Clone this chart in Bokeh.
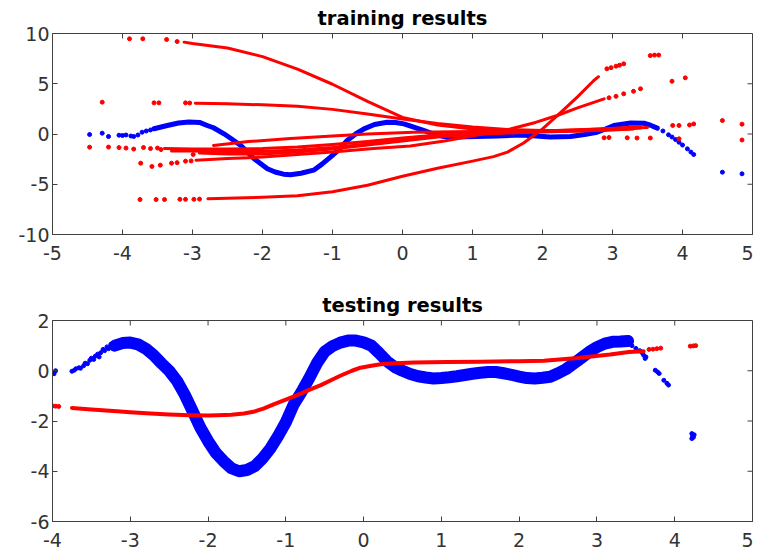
import math
from bokeh.plotting import figure
from bokeh.layouts import column
from bokeh.models import Range1d, FixedTicker, Title
from bokeh.embed import file_html
from bokeh.resources import INLINE

# ---------------- training panel data ----------------
train_x_ticks = [-5, -4, -3, -2, -1, 0, 1, 2, 3, 4, 5]
train_y_ticks = [-10, -5, 0, 5, 10]

train_blue_x = [-3.55, -3.36, -3.2, -3.05, -2.9, -2.79, -2.7, -2.55, -2.43, -2.31, -2.12, -1.93,
                -1.82, -1.7, -1.6, -1.45, -1.27, -1.15, -1.03, -0.9, -0.79, -0.67, -0.55, -0.4,
                -0.22, -0.1, 0.02, 0.15, 0.3, 0.45, 0.59, 0.75, 0.92, 1.35, 1.7, 2.11, 2.4, 2.6,
                2.78, 2.9, 3.02, 3.26, 3.45, 3.55, 3.64]
train_blue_y = [0.52, 0.85, 1.1, 1.2, 1.15, 0.85, 0.62, 0.02, -0.55, -1.14, -2.47, -3.46,
                -3.78, -4.0, -4.05, -3.9, -3.6, -3.0, -2.3, -1.5, -0.65, 0.0, 0.51, 0.95,
                1.17, 1.15, 1.01, 0.7, 0.35, 0.0, -0.25, -0.3, -0.28, -0.2, -0.1, -0.3, -0.25, -0.05,
                0.18, 0.5, 0.85, 1.1, 1.07, 0.85, 0.58]
train_blue_dots_x = [-4.47, -4.29, -4.2, -4.05, -4.0, -3.95, -3.88, -3.84, -3.78, -3.72, -3.66, -3.6,
                     3.72, 3.8, 3.85, 3.9, 3.95, 4.0, 4.07, 4.12, 4.16, 4.57, 4.85]
train_blue_dots_y = [-0.05, 0.08, -0.25, -0.12, -0.15, -0.1, -0.2, -0.25, -0.1, 0.18, 0.3, 0.4,
                     0.3, -0.08, -0.3, -0.55, -0.82, -1.1, -1.48, -1.8, -2.04, -3.8, -3.96]

red_A_x = [-3.12, -3.0, -2.5, -2.0, -1.5, -1.0, -0.5, 0.0, 0.5, 1.0, 1.5, 2.0, 2.5, 3.0, 3.3]
red_A_y = [9.14, 9.0, 8.55, 7.7, 6.45, 4.95, 3.25, 1.65, 0.9, 0.5, 0.32, 0.25, 0.3, 0.4, 0.5]
red_B_x = [-2.96, -2.5, -2.0, -1.5, -1.0, -0.5, 0.0, 0.5, 1.0, 1.5, 2.0, 2.5, 3.0, 3.3]
red_B_y = [3.05, 3.0, 2.9, 2.75, 2.45, 2.0, 1.5, 1.05, 0.7, 0.45, 0.35, 0.35, 0.45, 0.55]
red_C_x = [-2.78, -2.5, -2.0, -1.5, -1.0, -0.5, 0.0, 0.5, 1.0, 1.3, 1.5, 1.73, 2.0, 2.2, 2.5, 2.73, 2.8]
red_C_y = [-6.45, -6.4, -6.3, -6.15, -5.75, -5.1, -4.2, -3.4, -2.7, -2.25, -1.8, -0.9, 0.5, 1.75, 3.7, 5.3, 5.7]
red_E_x = [-2.95, -2.5, -2.0, -1.5, -1.0, -0.46, 0.11, 0.6, 1.07, 1.54, 1.9, 2.21, 2.5, 2.88]
red_E_y = [-2.6, -2.45, -2.3, -2.05, -1.78, -1.47, -1.2, -0.7, -0.1, 0.5, 1.15, 1.84, 2.6, 3.5]
red_F1_x = [-3.4, -3.0, -2.5, -2.0, -1.5, -1.0, -0.5, 0.0, 0.5, 1.0, 1.5, 2.0, 2.5, 3.0, 3.4]
red_F1_y = [-1.45, -1.5, -1.5, -1.45, -1.3, -1.05, -0.75, -0.4, -0.1, 0.1, 0.22, 0.3, 0.4, 0.55, 0.7]
red_F2_x = [-3.3, -3.0, -2.5, -2.0, -1.5, -1.0, -0.5, 0.0, 0.5, 1.0, 1.5, 2.0, 2.5, 3.0, 3.5]
red_F2_y = [-1.7, -1.7, -1.75, -1.75, -1.6, -1.35, -1.0, -0.6, -0.25, 0.0, 0.15, 0.25, 0.35, 0.5, 0.65]
red_F3_x = [-2.9, -2.5, -2.0, -1.5, -1.0, -0.5, 0.0, 0.5, 1.0, 1.5, 2.0, 2.5, 3.0, 3.4]
red_F3_y = [-1.9, -2.0, -2.0, -1.8, -1.5, -1.1, -0.7, -0.3, -0.05, 0.1, 0.2, 0.3, 0.45, 0.6]
red_G_x = [-2.7, -2.2, -1.6, -1.0, -0.5, 0.16, 1.0, 2.0, 3.0, 3.4]
red_G_y = [-1.14, -0.75, -0.45, -0.2, 0.0, 0.18, 0.25, 0.3, 0.55, 0.7]

train_red_dots_x = [-3.9, -3.71, -3.37, -3.22,
                    -4.29, -3.55, -3.48, -3.1, -3.04,
                    -3.75, -3.52, -3.4, -3.18, -3.1, -2.98, -2.9,
                    2.92, 2.98, 3.05, 3.1, 3.16, 3.54, 3.6, 3.66,
                    -3.74, -3.58, -3.46, -3.3, -3.22, -3.1, -3.02,
                    2.95, 3.05, 3.16, 3.3, 3.4, 3.85, 4.04,
                    -4.47, -4.2, -4.05, -3.95, -3.84, -3.7, -3.6, -3.5, -3.45, -2.99,
                    2.88, 2.95, 3.21, 3.35, 3.54, 3.86, 3.95, 3.95, 4.1, 4.16, 4.57, 4.85, 4.85]
train_red_dots_y = [9.47, 9.47, 9.4, 9.2,
                    3.17, 3.1, 3.1, 3.1, 3.08,
                    -6.52, -6.52, -6.52, -6.5, -6.5, -6.5, -6.48,
                    6.49, 6.6, 6.75, 6.85, 6.98, 7.8, 7.85, 7.85,
                    -2.9, -3.23, -3.1, -2.9, -2.85, -2.7, -2.68,
                    3.6, 3.75, 4.0, 4.25, 4.5, 5.25, 5.59,
                    -1.31, -1.3, -1.35, -1.4, -1.5, -1.35, -1.45, -1.4, -1.55, -2.04,
                    -0.38, -0.35, -0.38, -0.4, -0.4, 0.85, 0.85, -0.48, 0.9, 1.0, 1.34, 0.98, -0.6]

# ---------------- testing panel data ----------------
test_x_ticks = [-4, -3, -2, -1, 0, 1, 2, 3, 4, 5]
test_y_ticks = [-6, -4, -2, 0, 2]

test_blue_x = [-3.2, -3.1, -3.0, -2.9, -2.8, -2.7, -2.6, -2.5, -2.4, -2.3, -2.2, -2.1, -2.0,
               -1.9, -1.8, -1.7, -1.6, -1.5, -1.4, -1.3, -1.2, -1.1, -1.0, -0.9, -0.8, -0.7,
               -0.6, -0.5, -0.4, -0.3, -0.2, -0.1, 0.0, 0.1, 0.2, 0.3, 0.4, 0.5, 0.6, 0.7,
               0.8, 0.9, 1.0, 1.1, 1.2, 1.3, 1.4, 1.5, 1.6, 1.7, 1.8, 1.9, 2.0, 2.1, 2.2,
               2.3, 2.4, 2.5, 2.6, 2.7, 2.8, 2.9, 3.0, 3.1, 3.2, 3.3, 3.4]
test_blue_y = [1.0, 1.1, 1.12, 1.05, 0.88, 0.62, 0.3, 0.0, -0.4, -0.95, -1.6, -2.26, -2.8,
               -3.27, -3.6, -3.88, -4.0, -3.95, -3.8, -3.49, -3.1, -2.6, -2.05, -1.35, -0.85, -0.3,
               0.3, 0.76, 0.98, 1.12, 1.2, 1.2, 1.13, 1.0, 0.7, 0.38, 0.15, 0.0, -0.13, -0.22,
               -0.27, -0.31, -0.29, -0.26, -0.22, -0.17, -0.12, -0.08, -0.05, -0.05, -0.1, -0.16, -0.23, -0.29, -0.31,
               -0.28, -0.24, -0.1, 0.06, 0.28, 0.51, 0.75, 0.94, 1.08, 1.15, 1.16, 1.18]
test_blue_dots_x = [-4.0, -3.98, -3.96, -3.75, -3.72, -3.7, -3.66, -3.64, -3.6, -3.58, -3.55, -3.52,
                    -3.5, -3.47, -3.45, -3.42, -3.4, -3.38, -3.35, -3.33, -3.3, -3.28, -3.25, -3.22,
                    3.45, 3.5, 3.55, 3.58, 3.6, 3.62, 3.63, 3.75, 3.78, 3.8, 3.86, 3.9, 3.92,
                    4.22, 4.23, 4.24, 4.25, 4.22]
test_blue_dots_y = [-0.05, -0.12, 0.0, -0.02, 0.02, 0.08, 0.12, 0.1, 0.2, 0.3, 0.28, 0.42,
                    0.5, 0.45, 0.58, 0.66, 0.55, 0.72, 0.85, 0.8, 0.95, 0.88, 1.05, 0.98,
                    1.0, 0.89, 0.8, 0.72, 0.62, 0.49, 0.55, 0.02, -0.05, -0.11, -0.38, -0.5, -0.57,
                    -2.5, -2.6, -2.65, -2.55, -2.7]

test_red_x = [-3.75, -3.5, -3.17, -3.0, -2.74, -2.5, -2.23, -2.0, -1.88, -1.7, -1.54, -1.4,
              -1.28, -1.15, -1.0, -0.9, -0.8, -0.7, -0.55, -0.4, -0.3, -0.15, -0.04, 0.1,
              0.22, 0.4, 0.65, 1.07, 1.5, 2.0, 2.32, 2.75, 3.17, 3.41, 3.6]
test_red_y = [-1.48, -1.54, -1.61, -1.65, -1.7, -1.74, -1.77, -1.78, -1.77, -1.75, -1.7, -1.62,
              -1.5, -1.33, -1.15, -1.03, -0.9, -0.76, -0.57, -0.35, -0.2, 0.0, 0.12, 0.2,
              0.26, 0.3, 0.33, 0.35, 0.36, 0.38, 0.4, 0.51, 0.65, 0.75, 0.78]
test_red_dots_x = [-4.0, -3.96, -3.92, 3.67, 3.72, 3.77, 3.82, 4.2, 4.24, 4.27]
test_red_dots_y = [-1.4, -1.41, -1.42, 0.85, 0.86, 0.88, 0.9, 0.98, 0.99, 1.0]

BLUE = "#0000ff"
RED = "#ff0000"
AXC = "#404040"
FONT = "DejaVu Sans"


def make_fig(title, xr, yr, xt, yt, height, top_border, bottom_border):
    p = figure(width=753, height=height, x_range=Range1d(*xr), y_range=Range1d(*yr),
               output_backend="svg", toolbar_location=None, title=None,
               min_border_left=52, min_border_right=1, min_border_top=top_border,
               min_border_bottom=bottom_border)
    p.xgrid.visible = False
    p.ygrid.visible = False
    p.outline_line_color = AXC
    p.outline_line_alpha = 1.0
    p.xaxis.ticker = FixedTicker(ticks=xt)
    p.yaxis.ticker = FixedTicker(ticks=yt)
    p.xaxis.major_label_overrides = {v: str(v) for v in xt}
    p.yaxis.major_label_overrides = {v: str(v) for v in yt}
    for ax in (p.xaxis[0], p.yaxis[0]):
        ax.major_tick_in = 5
        ax.major_tick_out = 0
        ax.minor_tick_line_color = None
        ax.axis_line_color = AXC
        ax.major_tick_line_color = AXC
        ax.major_label_text_color = "#333333"
        ax.major_label_text_font = FONT
        ax.major_label_text_font_size = "19px"
    p.xaxis.major_label_standoff = 11
    p.yaxis.major_label_standoff = 3
    # inward ticks along the top and right edges of the box
    p.ray(x=xt, y=yr[1], length=5, length_units="screen", angle=-math.pi / 2,
          line_color=AXC, line_width=1)
    p.ray(x=xr[1], y=yt, length=5, length_units="screen", angle=math.pi,
          line_color=AXC, line_width=1)
    p.add_layout(Title(text=title, align="center", text_font=FONT, text_font_size="19.5px",
                       text_font_style="bold", text_color="black", standoff=8), "above")
    return p


p1 = make_fig("training results", (-5, 5), (-10, 10), train_x_ticks, train_y_ticks, 278, 33, 44)
p1.line(train_blue_x, train_blue_y, line_color=BLUE, line_width=5, line_join="round", line_cap="round")
p1.scatter(train_blue_dots_x, train_blue_dots_y, size=4, color=BLUE)
p1.multi_line([red_A_x, red_B_x, red_C_x, red_E_x, red_F1_x, red_F2_x, red_F3_x, red_G_x],
              [red_A_y, red_B_y, red_C_y, red_E_y, red_F1_y, red_F2_y, red_F3_y, red_G_y],
              line_color=RED, line_width=3, line_join="round", line_cap="round")
p1.scatter(train_red_dots_x, train_red_dots_y, size=4, color=RED)

p2 = make_fig("testing results", (-4, 5), (-6, 2), test_x_ticks, test_y_ticks, 278, 42, 35)
p2.line(test_blue_x, test_blue_y, line_color=BLUE, line_width=12, line_join="round", line_cap="round")
p2.scatter(test_blue_dots_x, test_blue_dots_y, size=4, color=BLUE)
p2.line(test_red_x, test_red_y, line_color=RED, line_width=4, line_join="round", line_cap="round")
p2.scatter(test_red_dots_x, test_red_dots_y, size=4, color=RED)

layout = column(p1, p2)
open("out.html", "w").write(file_html(layout, INLINE))
